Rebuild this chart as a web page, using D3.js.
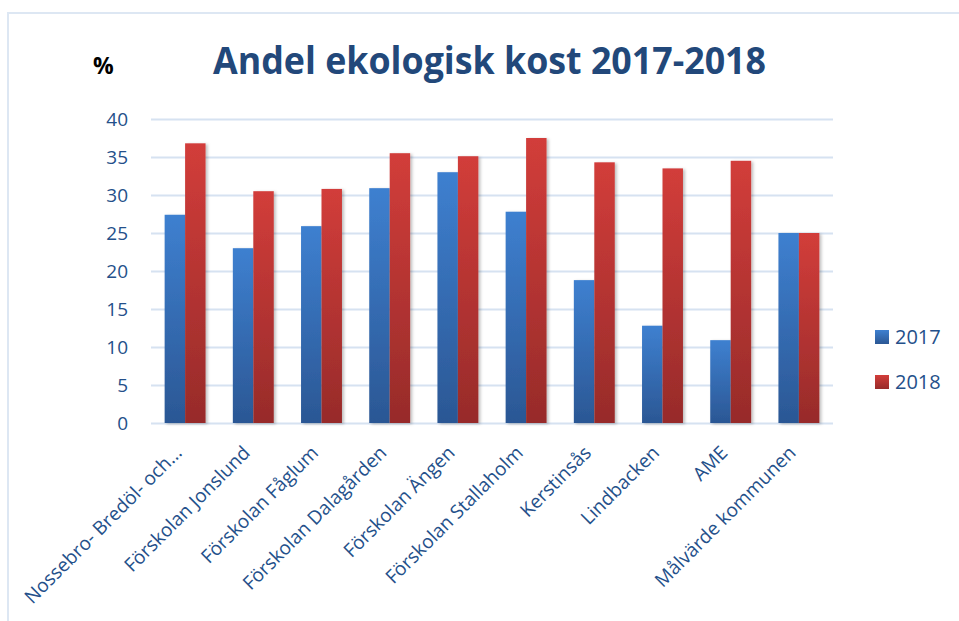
<!DOCTYPE html>
<html>
<head>
<meta charset="utf-8">
<script src="https://cdn.jsdelivr.net/npm/d3@7"></script>
<style>
  body { margin: 0; background: #fff; }
  svg { display: block; font-family: "Open Sans", "DejaVu Sans", sans-serif; }
</style>
</head>
<body>
<div id="chart"></div>
<script>
const categories = [
    'Nossebro- Bredöl- och...',
    'Förskolan Jonslund',
    'Förskolan Fåglum',
    'Förskolan Dalagården',
    'Förskolan Ängen',
    'Förskolan Stallaholm',
    'Kerstinsås',
    'Lindbacken',
    'AME',
    'Målvärde kommunen'
];
const series = ['2017', '2018'];
const values2017 = [27.4, 23.0, 25.9, 30.9, 33.0, 27.8, 18.8, 12.8, 10.9, 25.0];
const values2018 = [36.8, 30.5, 30.8, 35.5, 35.1, 37.5, 34.3, 33.5, 34.5, 25.0];
const yTicks = [0, 5, 10, 15, 20, 25, 30, 35, 40];

const width = 959;
const height = 621;
const margin = { top: 119, right: 126, bottom: 198, left: 151 };
const font = '"Open Sans", "DejaVu Sans", sans-serif';

const rows = categories.map((c, i) => ({ name: c, '2017': values2017[i], '2018': values2018[i] }));

const svg = d3.select('#chart')
    .append('svg')
    .attr('width', width)
    .attr('height', height);

// gradients for bars
const defs = svg.append('defs');
const grads = [
    { id: 'g2017', top: '#3e80d0', bottom: '#2b5794' },
    { id: 'g2018', top: '#d23d3a', bottom: '#972b2a' }
];
grads.forEach(g => {
    const lg = defs.append('linearGradient')
        .attr('id', g.id).attr('x1', 0).attr('y1', 0).attr('x2', 0).attr('y2', 1);
    lg.append('stop').attr('offset', '0%').attr('stop-color', g.top);
    lg.append('stop').attr('offset', '100%').attr('stop-color', g.bottom);
});
const shadow = defs.append('filter').attr('id', 'shadow')
    .attr('x', '-20%').attr('y', '-5%').attr('width', '150%').attr('height', '115%');
shadow.append('feDropShadow')
    .attr('dx', 2).attr('dy', 1).attr('stdDeviation', 1.5)
    .attr('flood-color', '#000').attr('flood-opacity', 0.25);

// frame
svg.append('path')
    .attr('d', `M8,${height} V13 H${width}`)
    .attr('fill', 'none')
    .attr('stroke', '#dde7f3')
    .attr('stroke-width', 2);

const x0 = d3.scaleBand()
    .domain(categories)
    .range([margin.left, width - margin.right])
    .paddingInner(0.4)
    .paddingOuter(0.2);

const x1 = d3.scaleBand()
    .domain(series)
    .range([0, x0.bandwidth()]);

const y = d3.scaleLinear()
    .domain([0, 40])
    .range([height - margin.bottom, margin.top]);

// gridlines
const grid = svg.append('g')
    .attr('transform', `translate(${margin.left},0)`)
    .call(d3.axisLeft(y).tickValues(yTicks).tickFormat('').tickSize(-(width - margin.left - margin.right)));
grid.select('.domain').remove();
grid.selectAll('line').attr('stroke', '#d6e2f1').attr('stroke-width', 2);

// y axis labels
const yAxis = svg.append('g')
    .attr('transform', `translate(${margin.left},0)`)
    .call(d3.axisLeft(y).tickValues(yTicks).tickSize(0).tickPadding(23))
    .attr('font-family', font)
    .attr('font-size', 19);
yAxis.select('.domain').remove();
yAxis.selectAll('text')
    .attr('fill', '#24508a')
    .attr('dy', '0.35em');

// bars
const groups = svg.append('g').selectAll('g')
    .data(rows)
    .join('g')
    .attr('transform', d => `translate(${x0(d.name)},0)`);

groups.selectAll('rect')
    .data(d => series.map(s => ({ key: s, value: d[s] })))
    .join('rect')
    .attr('x', d => x1(d.key))
    .attr('y', d => y(d.value))
    .attr('width', x1.bandwidth())
    .attr('height', d => y(0) - y(d.value))
    .attr('fill', d => `url(#g${d.key})`)
    .attr('filter', 'url(#shadow)');

// x labels
const xAxis = svg.append('g')
    .attr('transform', `translate(0,${y(0)})`)
    .call(d3.axisBottom(x0).tickSize(0).tickPadding(0))
    .attr('font-family', font)
    .attr('font-size', 19);
xAxis.select('.domain').remove();
xAxis.selectAll('text')
    .attr('fill', '#24508a')
    .attr('text-anchor', 'end')
    .attr('dy', null)
    .attr('y', 0)
    .attr('transform', 'translate(-2,31) rotate(-45)');

// title
svg.append('text')
    .attr('x', 213)
    .attr('y', 74)
    .attr('font-size', '37px')
    .attr('font-weight', 'bold')
    .attr('fill', '#22487a')
    .attr('textLength', 553)
    .attr('lengthAdjust', 'spacingAndGlyphs')
    .text('Andel ekologisk kost 2017-2018');

svg.append('text')
    .attr('x', 93)
    .attr('y', 74)
    .attr('font-size', '23px')
    .attr('font-weight', 'bold')
    .attr('fill', '#000')
    .text('%');

// legend
const legend = svg.append('g')
    .selectAll('g')
    .data(series)
    .join('g')
    .attr('transform', (d, i) => `translate(875,${330 + i * 45})`);
legend.append('rect')
    .attr('width', 14).attr('height', 14)
    .attr('fill', d => `url(#g${d})`);
legend.append('text')
    .attr('x', 20).attr('y', 14)
    .attr('font-size', '20px')
    .attr('fill', '#24508a')
    .text(d => d);
</script>
</body>
</html>
